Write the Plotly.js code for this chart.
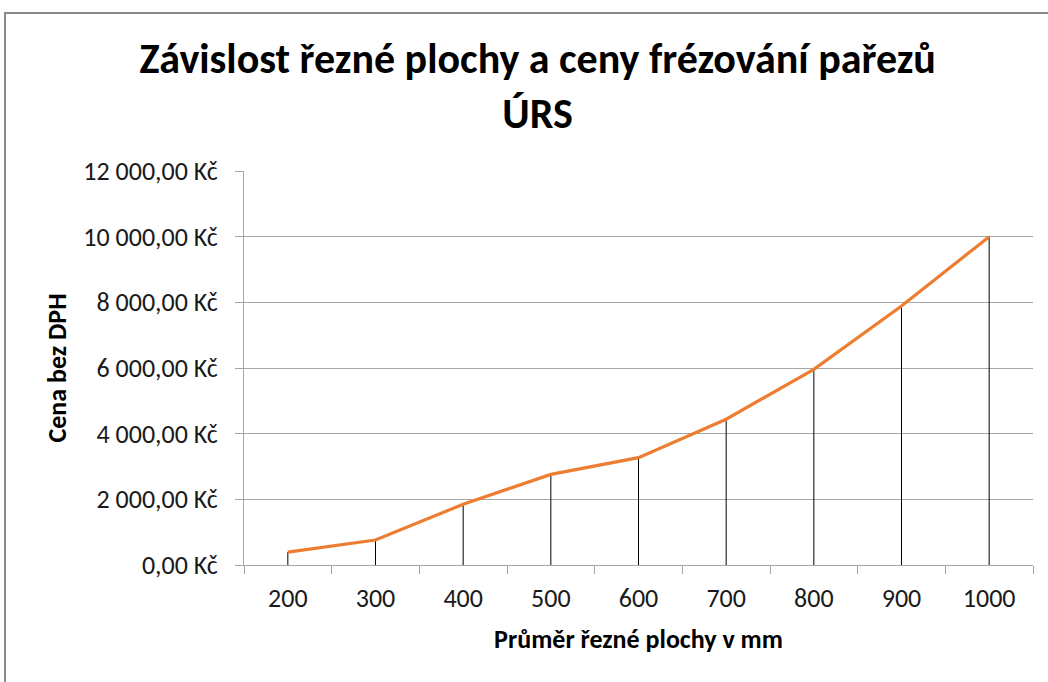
<!DOCTYPE html>
<html>
<head>
<meta charset="utf-8">
<script src="https://cdn.plot.ly/plotly-3.0.1.min.js"></script>
<style>
  html, body { margin: 0; padding: 0; background: #fff; }
  #wrap { position: relative; width: 1048px; height: 682px; }
  #chart { position: absolute; left: 0; top: 0; width: 1048px; height: 682px; }
  #frame { position: absolute; left: 4px; top: 12px; right: -2px; bottom: -2px;
           border-left: 2px solid #8a8a8a; border-top: 2px solid #8a8a8a; pointer-events: none; }
</style>
</head>
<body>
<div id="wrap">
  <div id="chart"></div>
  <div id="frame"></div>
</div>
<script>
const categories = ["200", "300", "400", "500", "600", "700", "800", "900", "1000"];
const prices = [390, 760, 1850, 2760, 3270, 4440, 5960, 7890, 10000];
const yTicks = [0, 2000, 4000, 6000, 8000, 10000, 12000];

const FONT = "Carlito, Calibri, Lato, 'Open Sans', sans-serif";

function formatKc(v) {
  const parts = v.toFixed(2).split(".");
  const intPart = parts[0].replace(/\B(?=(\d{3})+(?!\d))/g, " ");
  return intPart + "," + parts[1] + " Kč";
}
const yTickText = yTicks.map(formatKc);

const dropLines = {
  x: categories,
  y: prices,
  type: "scatter",
  mode: "markers",
  marker: { size: 0.1, color: "rgba(0,0,0,0)" },
  error_y: {
    type: "data",
    symmetric: false,
    array: prices.map(() => 0),
    arrayminus: prices,
    color: "#000000",
    thickness: 1,
    width: 0
  },
  hoverinfo: "skip",
  showlegend: false
};

const priceLine = {
  x: categories,
  y: prices,
  type: "scatter",
  mode: "lines",
  line: { color: "#ED7D31", width: 3.2 },
  showlegend: false
};

const layout = {
  width: 1048,
  height: 682,
  margin: { l: 244, r: 15, t: 171, b: 117 },
  paper_bgcolor: "#ffffff",
  plot_bgcolor: "#ffffff",
  font: { family: FONT, color: "#1a1a1a", size: 26 },
  title: {
    text: "<b>Závislost řezné plochy a ceny frézování pařezů<br>ÚRS</b>",
    font: { family: FONT, size: 42, color: "#000000" },
    x: 0.513,
    xanchor: "center",
    yref: "container",
    y: 1 - 73 / 682,
    yanchor: "middle"
  },
  xaxis: {
    type: "category",
    range: [-0.5, 8.5],
    tickson: "boundaries",
    ticks: "outside",
    ticklen: 8,
    tickcolor: "#a6a6a6",
    ticklabelstandoff: 10,
    showgrid: false,
    showline: true,
    linecolor: "#a6a6a6",
    linewidth: 1,
    tickfont: { family: FONT, size: 26, color: "#1a1a1a" },
    title: {
      text: "<b>Průměr řezné plochy v mm</b>",
      font: { family: FONT, size: 26, color: "#000000" },
      standoff: 16
    },
    fixedrange: true
  },
  yaxis: {
    range: [0, 12000],
    tickvals: yTicks,
    ticktext: yTickText,
    ticks: "outside",
    ticklen: 8,
    tickcolor: "#a6a6a6",
    ticklabelstandoff: 12,
    showgrid: true,
    gridcolor: "#a6a6a6",
    gridwidth: 1,
    showline: true,
    linecolor: "#a6a6a6",
    linewidth: 1,
    zeroline: false,
    tickfont: { family: FONT, size: 26, color: "#1a1a1a" },
    title: {
      text: "<b>Cena bez DPH</b>",
      font: { family: FONT, size: 26, color: "#000000" },
      standoff: 9
    },
    fixedrange: true
  },
  showlegend: false
};

Plotly.newPlot("chart", [dropLines, priceLine], layout, { displayModeBar: false, staticPlot: true });
</script>
</body>
</html>
